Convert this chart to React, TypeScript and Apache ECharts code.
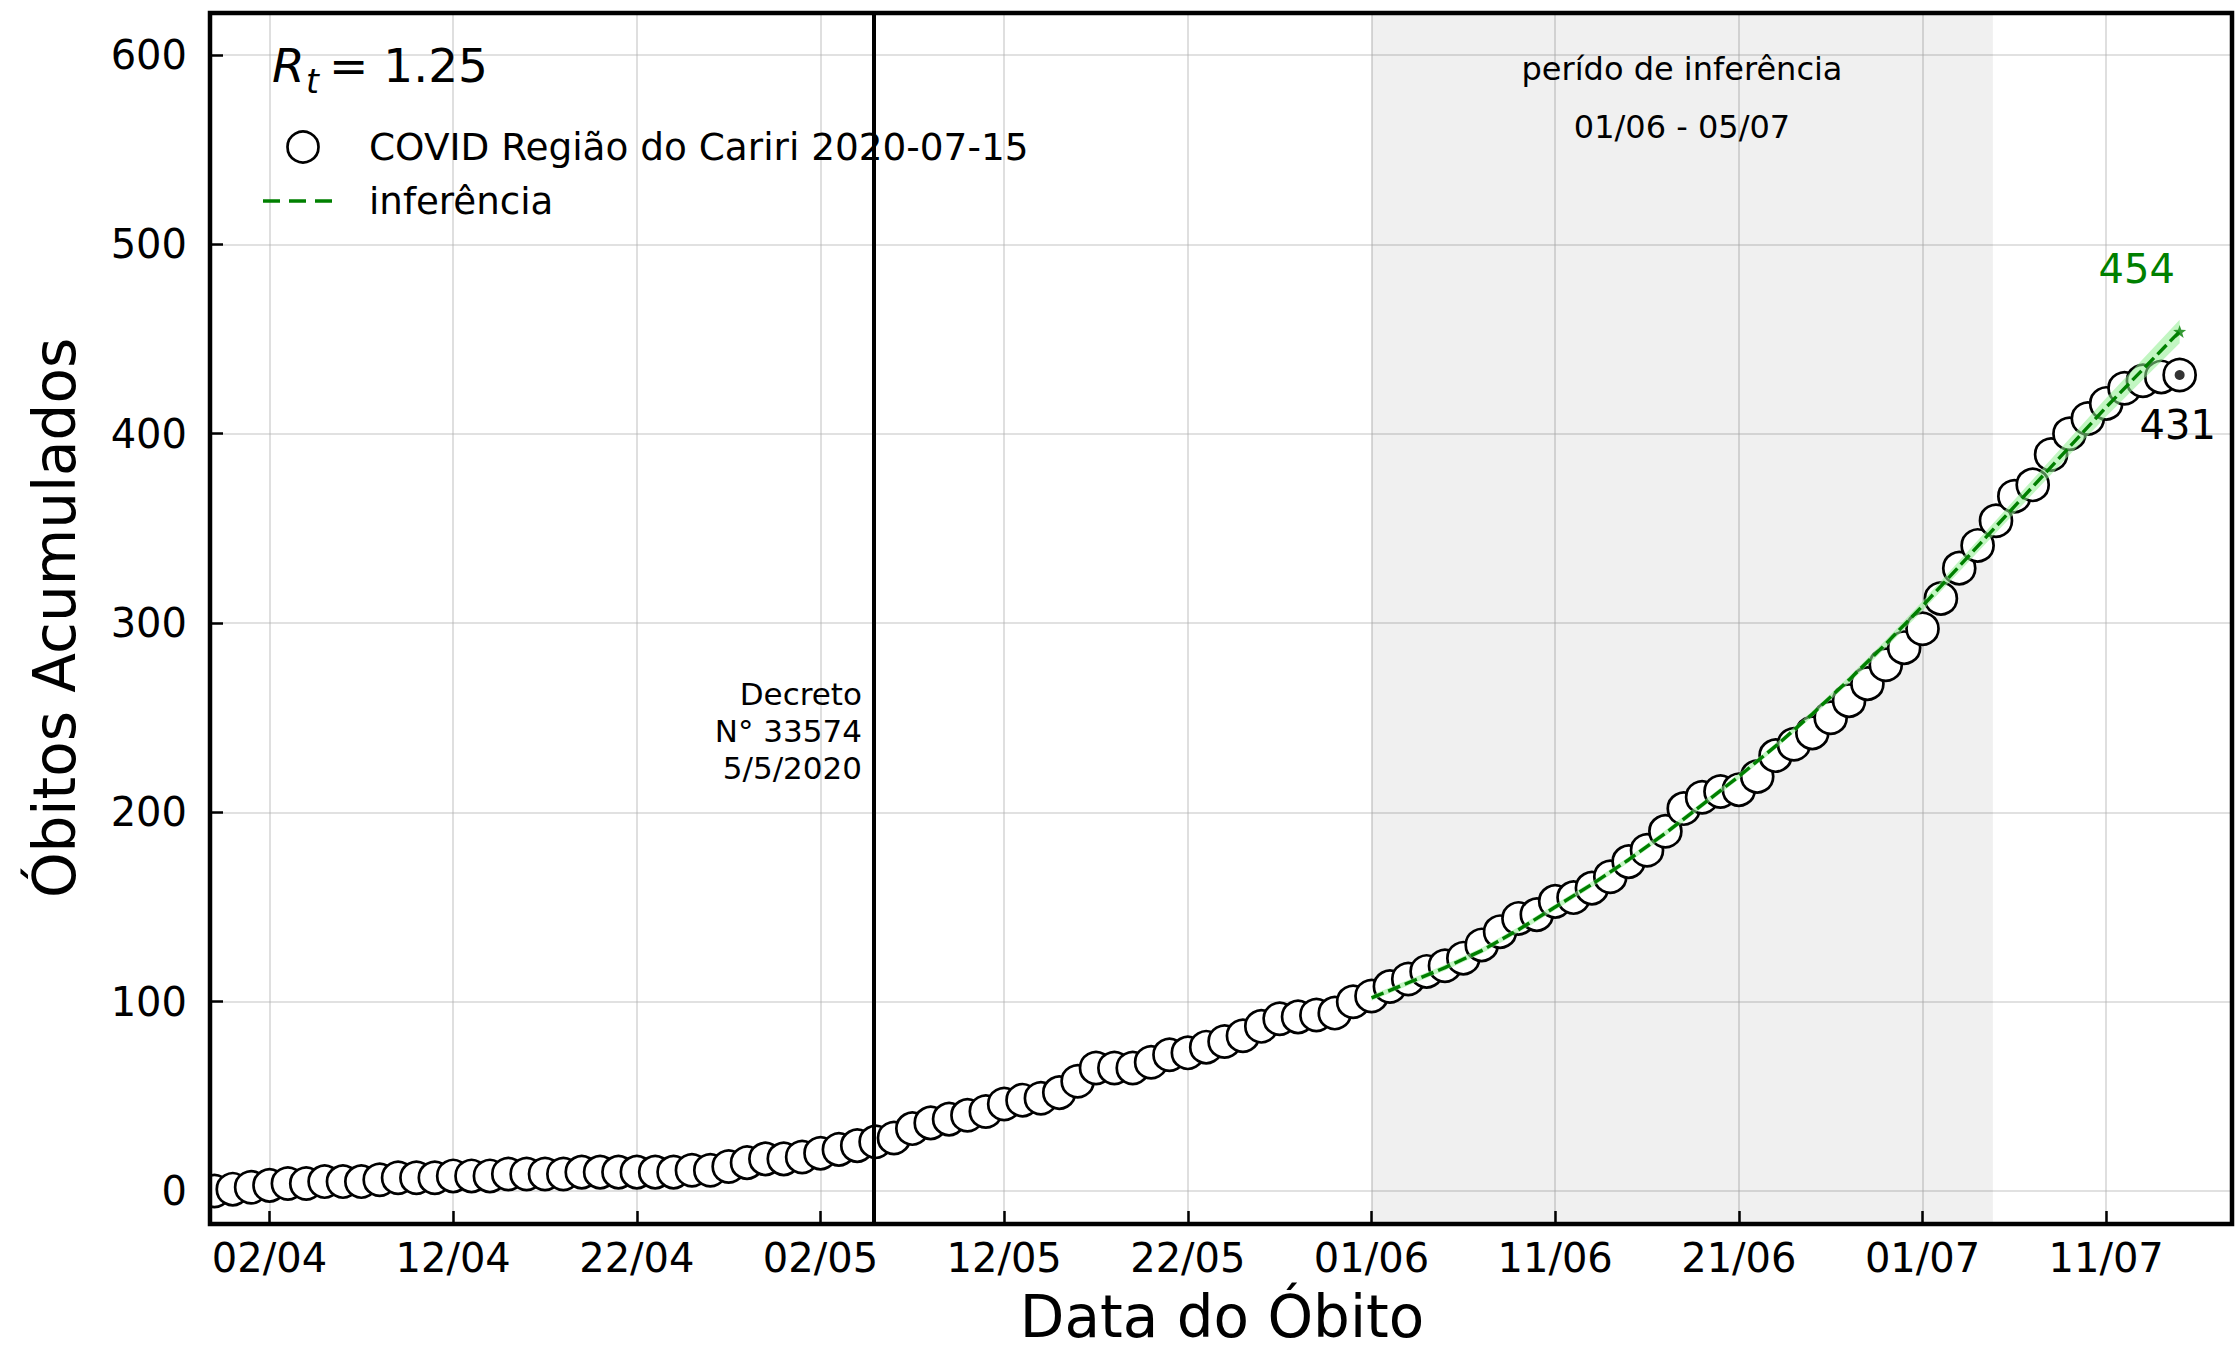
import React, { useEffect, useRef } from 'react';
import * as echarts from 'echarts';

const FONT = 'DejaVu Sans';
const DAY = 86400000;
const REF = Date.UTC(2020, 3, 2); // 02/04/2020 = day 0 (tick origin)

// ---- data ----
const firstDate = '2020-03-30';
const deaths = [
  0, 1, 2,
  3, 4, 4, 5, 5, 5, 6, 7, 7, 7,
  8, 8, 8, 9, 9, 9, 9, 10, 10, 10,
  10, 10, 10, 11, 11, 13, 15, 17, 17, 18,
  20, 22, 24, 26, 28, 33, 36, 38, 40, 42,
  46, 48, 49, 52, 58, 65, 65, 65, 68, 72,
  73, 76, 79, 82, 87, 91, 92, 93, 94, 100,
  103, 108, 112, 116, 119, 123, 130, 137, 144, 146,
  153, 155, 160, 166, 174, 180, 190, 202, 208, 211,
  212, 219, 230, 236, 242, 250, 259, 268, 278, 287,
  297, 313, 329, 341, 354, 367, 373, 389, 400, 408,
  416, 424, 428, 430, 431,
];
const inferDates = [
  '2020-06-01', '2020-06-03', '2020-06-05', '2020-06-07', '2020-06-09', '2020-06-11',
  '2020-06-13', '2020-06-15', '2020-06-17', '2020-06-19', '2020-06-21', '2020-06-23',
  '2020-06-25', '2020-06-27', '2020-06-29', '2020-07-01', '2020-07-03', '2020-07-05',
  '2020-07-07', '2020-07-09', '2020-07-11', '2020-07-13', '2020-07-15',
];
const inferValues = [
  102, 110, 118, 127, 138, 150, 162, 175, 189, 204, 219, 235,
  252, 270, 289, 309, 330, 351, 372, 393, 414, 434, 454,
];
const bandLow = [
  100.5, 108.5, 116.5, 125.5, 136.5, 148.5, 160.5, 173.5, 187.5, 202.5, 217.5, 233.5,
  250.5, 268.2, 286.9, 306.5, 327.1, 347.7, 368.2, 388.7, 409.1, 428.5, 447.8,
];
const bandHigh = [
  103.5, 111.5, 119.5, 128.5, 139.5, 151.5, 163.5, 176.5, 190.5, 205.5, 220.5, 236.5,
  253.5, 271.8, 291.1, 311.5, 332.9, 354.3, 375.8, 397.3, 418.9, 439.5, 460.2,
];
const inferencePeriod = ['2020-06-01', '2020-07-04T20:00'];
const decreeDate = '2020-05-04T21:00';
const xRange = ['2020-03-29T18:15', '2020-07-17T20:24'];
const yRange = [-17.4, 622.2];

const seriesName = 'COVID Região do Cariri 2020-07-15';
const inferName = 'inferência';

function dayOf(s: string): number {
  const [d, t] = s.split('T');
  const [Y, M, D] = d.split('-').map(Number);
  const [h, m] = t ? t.split(':').map(Number) : [0, 0];
  return (Date.UTC(Y, M - 1, D, h, m) - REF) / DAY;
}
const pad = (n: number) => (n < 10 ? '0' + n : '' + n);

export default function App() {
  const ref = useRef<HTMLDivElement>(null);
  useEffect(() => {
    if (!ref.current) return;
    const chart = echarts.init(ref.current, null, { renderer: 'svg' });
    const d0 = dayOf(firstDate);
    const obs = deaths.map((v, i) => [d0 + i, v]);
    const inferDays = inferDates.map(dayOf);
    const infer = inferDays.map((d, i) => [d, inferValues[i]]);
    const band = inferDays.map((d, i) => [d, bandLow[i], bandHigh[i]]);
    const lastObs = obs[obs.length - 1];
    const lastInfer = infer[infer.length - 1];

    const fmtX = (v: number) => {
      const r = Math.round(v);
      if (Math.abs(v - r) > 1e-6 || r % 10 !== 0) return '';
      const dt = new Date(REF + r * DAY);
      return pad(dt.getUTCDate()) + '/' + pad(dt.getUTCMonth() + 1);
    };
    const fmtY = (v: number) => {
      const r = Math.round(v);
      if (Math.abs(v - r) > 1e-6 || r % 100 !== 0) return '';
      return String(r);
    };
    const gridLine = { show: true, lineStyle: { color: 'rgba(176,176,176,0.5)', width: 1.6 } };
    const tick = { show: true, inside: true, length: 13, lineStyle: { color: '#000', width: 2.5 } };
    const star = 'path://M50 0L61.76 33.82L97.55 34.55L69.02 56.18L79.39 90.45L50 70L20.61 90.45L30.98 56.18L2.45 34.55L38.24 33.82Z';

    const txt = (x: number, y: number, text: string, size: number, align: string, extra: any = {}) => ({
      type: 'text', x, y, z: 50, silent: true,
      style: {
        text, fontSize: size, fontFamily: FONT, fill: '#000',
        align, textAlign: align, verticalAlign: 'middle', textVerticalAlign: 'middle',
        ...extra,
      },
    });

    const option: any = {
      animation: false,
      backgroundColor: '#ffffff',
      grid: { left: 210, right: 4, top: 13, bottom: 130, containLabel: false, outerBoundsMode: 'none', show: false },
      xAxis: {
        type: 'value', min: dayOf(xRange[0]), max: dayOf(xRange[1]), splitNumber: 11,
        position: 'bottom',
        axisLine: { show: false, onZero: false },
        axisTick: tick,
        axisLabel: { show: true, margin: 14, fontSize: 40, fontFamily: FONT, color: '#000', formatter: fmtX },
        splitLine: gridLine,
      },
      yAxis: {
        type: 'value', min: yRange[0], max: yRange[1], splitNumber: 6,
        position: 'left',
        axisLine: { show: false, onZero: false },
        axisTick: tick,
        axisLabel: { show: true, margin: 23, fontSize: 40, fontFamily: FONT, color: '#000', formatter: fmtY },
        splitLine: gridLine,
      },
      series: [
        {
          name: seriesName, type: 'scatter', z: 3, data: obs,
          symbol: 'circle', symbolSize: 32,
          itemStyle: { color: '#ffffff', borderColor: '#000', borderWidth: 2.7, opacity: 1 },
          emphasis: { disabled: true },
          markArea: {
            silent: true, z: 1,
            itemStyle: { color: 'rgba(0,0,0,0.06)' },
            data: [[{ xAxis: dayOf(inferencePeriod[0]) }, { xAxis: dayOf(inferencePeriod[1]) }]],
          },
          markLine: {
            silent: true, z: 5, symbol: ['none', 'none'], label: { show: false },
            lineStyle: { color: '#000', width: 4, type: 'solid' },
            data: [{ xAxis: dayOf(decreeDate) }],
          },
        },
        {
          type: 'custom', z: 4, silent: true, data: band,
          encode: { x: 0, y: [1, 2] },
          renderItem: (params: any, api: any) => {
            if (params.dataIndex !== 0) return null;
            const up = band.map((r) => api.coord([r[0], r[2]]));
            const lo = band.map((r) => api.coord([r[0], r[1]])).reverse();
            return {
              type: 'polygon',
              shape: { points: up.concat(lo) },
              style: { fill: 'rgba(144,238,144,0.55)' },
            };
          },
        },
        {
          name: inferName, type: 'line', z: 5, data: infer, symbol: 'none', silent: true,
          lineStyle: { color: '#008000', width: 3.4, type: [13, 5] },
        },
        {
          type: 'scatter', z: 6, data: [lastInfer], symbol: star, symbolSize: 13, silent: true,
          itemStyle: { color: '#008000' },
          label: {
            show: true, position: 'inside', offset: [-43, -62],
            formatter: (p: any) => String(p.value[1]),
            fontSize: 40, fontFamily: FONT, color: '#008000',
            textBorderWidth: 0, textBorderColor: 'transparent', opacity: 1,
          },
        },
        {
          type: 'scatter', z: 6, data: [lastObs], symbol: 'circle', symbolSize: 10, silent: true,
          itemStyle: { color: '#000' },
          label: {
            show: true, position: 'inside', offset: [-2, 50],
            formatter: (p: any) => String(p.value[1]),
            fontSize: 40, fontFamily: FONT, color: '#000',
            textBorderWidth: 0, textBorderColor: 'transparent', opacity: 1,
          },
        },
      ],
      graphic: [
        { type: 'rect', z: 99, silent: true, shape: { x: 186, y: 1166, width: 22, height: 50 }, style: { fill: '#ffffff' } },
        { type: 'rect', z: 100, silent: true, shape: { x: 210, y: 13, width: 2022, height: 1211 }, style: { fill: 'none', stroke: '#000', lineWidth: 4.5 } },
        // R_t = 1.25
        txt(272, 65, 'R', 47, 'left', { fontStyle: 'italic' }),
        txt(306, 81, 't', 33, 'left', { fontStyle: 'italic' }),
        txt(329, 65, '= 1.25', 47, 'left'),
        // legend
        { type: 'circle', z: 50, silent: true, shape: { cx: 303, cy: 147, r: 15.5 }, style: { fill: '#fff', stroke: '#000', lineWidth: 2.7 } },
        txt(369, 147, seriesName, 37.4, 'left'),
        { type: 'line', z: 50, silent: true, shape: { x1: 263, y1: 201, x2: 332, y2: 201 }, style: { stroke: '#008000', lineWidth: 3.6, lineDash: [17, 9] } },
        txt(369, 201, inferName, 37.2, 'left'),
        // inference period annotation
        txt(1682, 69, 'perído de inferência', 32, 'center'),
        txt(1682, 127, '01/06 - 05/07', 32, 'center'),
        // decree annotation
        txt(862, 731, 'Decreto\nN° 33574\n5/5/2020', 31, 'right', { lineHeight: 37 }),
        // axis titles
        txt(1222, 1317, 'Data do Óbito', 58, 'center'),
        { ...txt(55, 618, 'Óbitos Acumulados', 58, 'center'), rotation: Math.PI / 2 },
      ],
    };
    chart.setOption(option);
    return () => chart.dispose();
  }, []);
  return (
    <div
      ref={ref}
      style={{ position: 'absolute', left: 0, top: 0, width: 2236, height: 1354, background: '#fff' }}
    />
  );
}
